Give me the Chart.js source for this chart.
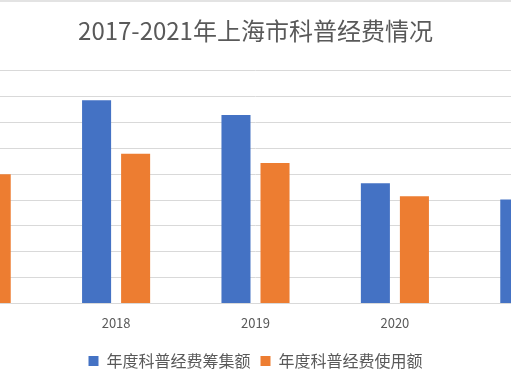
<!DOCTYPE html>
<html>
<head>
<meta charset="utf-8">
<script src="https://cdn.jsdelivr.net/npm/chart.js@4/dist/chart.umd.min.js"></script>
<style>
  html, body { margin: 0; padding: 0; background: #fff; overflow: hidden; width: 511px; height: 385px; }
  #wrap { position: absolute; left: -93px; top: 0; width: 697px; height: 385px; }
</style>
</head>
<body>
<div id="wrap"><canvas id="chart" width="697" height="385"></canvas></div>
<script>
// data, one grid step = 1
var years = ['2017', '2018', '2019', '2020', '2021'];
var raised = [6.2, 7.86, 7.29, 4.65, 4.02];
var used = [5.0, 5.79, 5.43, 4.15, 3.7];
var seriesNames = ['年度科普经费筹集额', '年度科普经费使用额'];
var chartTitle = '2017-2021年上海市科普经费情况';

var textColor = '#595959';
var fontFamily = '"Noto Sans CJK SC", "Noto Sans", sans-serif';

// thin frame line along the top, as in the original
var topLine = {
  id: 'topLine',
  beforeDraw: function(chart) {
    var ctx = chart.ctx;
    ctx.save();
    ctx.fillStyle = '#e3e3e3';
    ctx.fillRect(0, 0, chart.width, 2);
    ctx.restore();
  }
};

Chart.defaults.font.family = fontFamily;
Chart.defaults.color = textColor;

var myChart = new Chart(document.getElementById('chart').getContext('2d'), {
  type: 'bar',
  data: {
    labels: years,
    datasets: [{
      label: seriesNames[0],
      data: raised,
      backgroundColor: '#4472C4'
    }, {
      label: seriesNames[1],
      data: used,
      backgroundColor: '#ED7D31'
    }]
  },
  options: {
    responsive: false,
    animation: false,
    devicePixelRatio: 1,
    categoryPercentage: 0.56,
    barPercentage: 0.744,
    layout: { padding: { left: 0, right: 0, top: 0, bottom: 6 } },
    plugins: {
      title: {
        display: true,
        text: chartTitle,
        color: textColor,
        font: { size: 24, weight: 'normal' },
        padding: { top: 16, bottom: 26 }
      },
      legend: {
        position: 'bottom',
        labels: {
          boxWidth: 10,
          boxHeight: 10,
          padding: 10,
          color: textColor,
          font: { size: 16 }
        }
      },
      tooltip: { enabled: false }
    },
    scales: {
      x: {
        grid: { display: false, drawTicks: false },
        border: { color: '#d9d9d9' },
        ticks: { padding: 12, color: textColor, font: { size: 13 } }
      },
      y: {
        display: true,
        min: 0,
        max: 9,
        ticks: { display: false, stepSize: 1 },
        grid: { color: '#d9d9d9', drawTicks: false },
        border: { display: false }
      }
    }
  },
  plugins: [topLine]
});
</script>
</body>
</html>
